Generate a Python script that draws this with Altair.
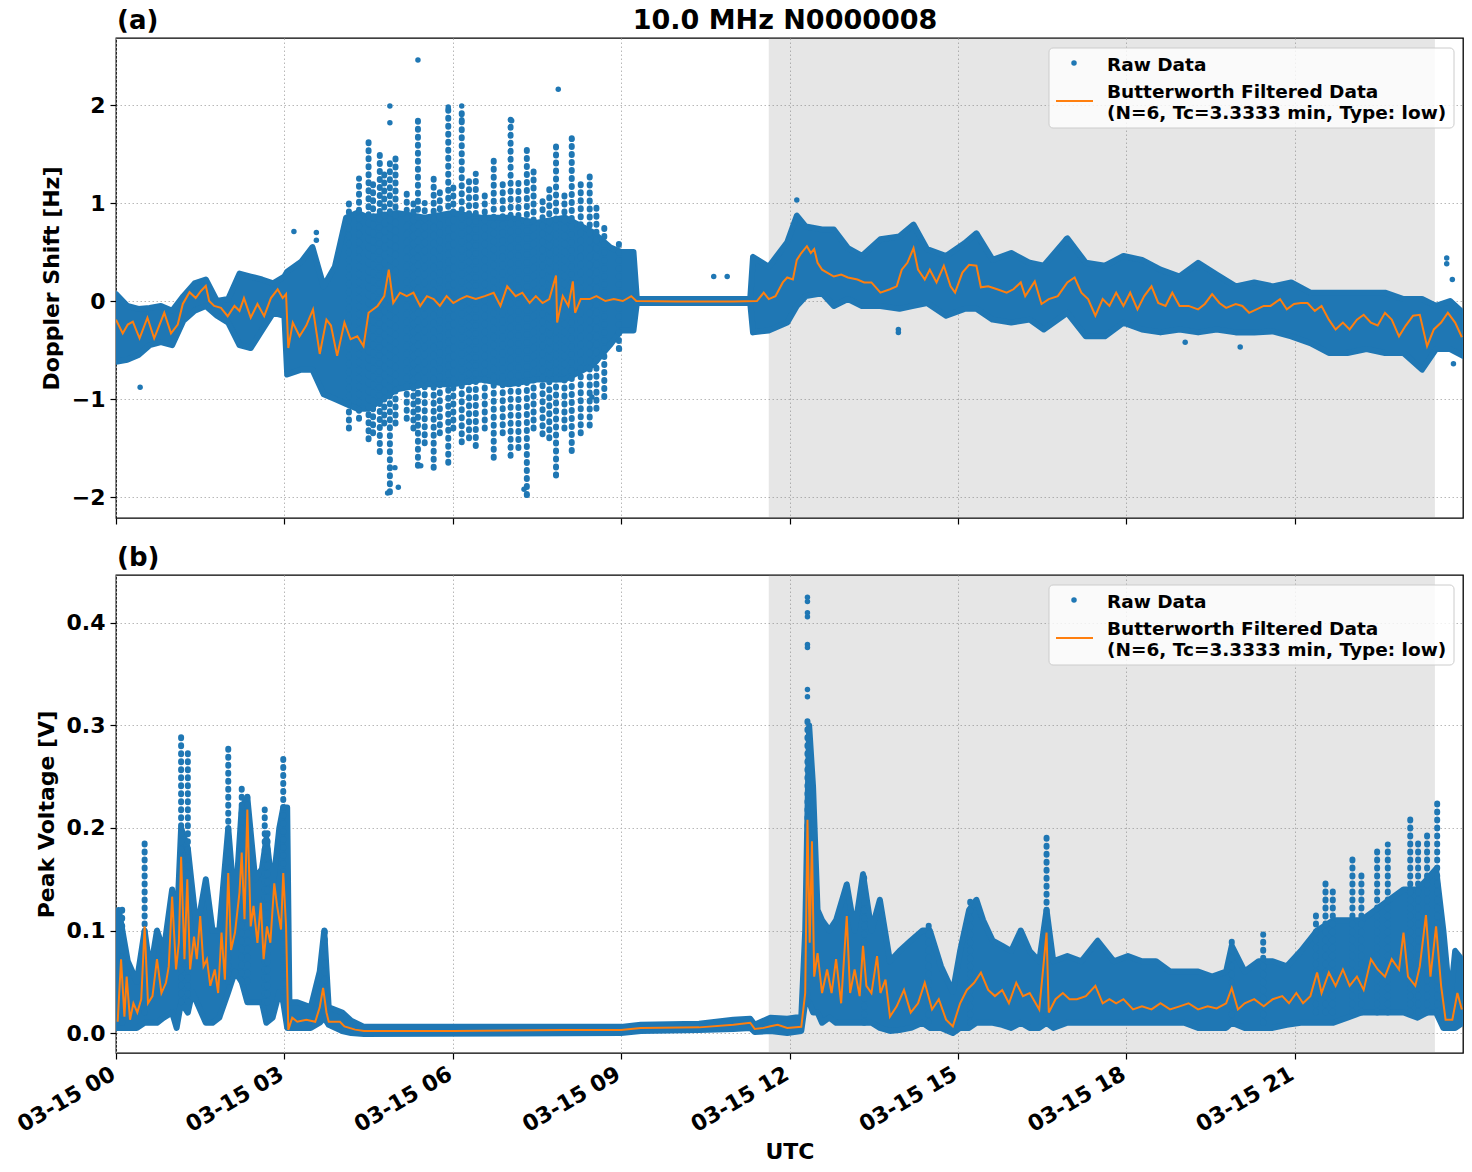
import altair as alt
import pandas as pd

FONT = "DejaVu Sans"
BLUE = "#1f77b4"
ORANGE = "#ff7f0e"
TITLE = "10.0 MHz N0000008"
LEG_RAW = "Raw Data"
LEG_FILT_1 = "Butterworth Filtered Data"
LEG_FILT_2 = "(N=6, Tc=3.3333 min, Type: low)"
X_TICKS = [0, 3, 6, 9, 12, 15, 18, 21]          # hours of 03-15 UTC
SHADE = [11.63, 23.5]                             # shaded interval, hours

# ---------------- panel (a): Doppler shift [Hz] ----------------
FILT_A_T = [0.00, 0.12, 0.21, 0.30, 0.42, 0.56, 0.68, 0.86, 0.98, 1.10, 1.19, 1.31, 1.42, 1.51, 1.60, 1.66,
            1.75, 1.87, 1.99, 2.11, 2.20, 2.28, 2.40, 2.52, 2.64, 2.76, 2.88, 2.97, 3.03, 3.07, 3.15, 3.27,
            3.39, 3.51, 3.63, 3.75, 3.83, 3.94, 4.07, 4.18, 4.30, 4.41, 4.50, 4.66, 4.78, 4.86, 4.94, 5.06,
            5.18, 5.30, 5.42, 5.54, 5.66, 5.77, 5.89, 6.01, 6.13, 6.25, 6.41, 6.57, 6.73, 6.85, 6.97, 7.12,
            7.24, 7.37, 7.48, 7.60, 7.72, 7.84, 7.86, 7.96, 8.06, 8.14, 8.18, 8.28, 8.44, 8.56, 8.72, 8.87,
            9.03, 9.18, 9.27, 10.00, 11.00, 11.42, 11.54, 11.63, 11.75, 11.88, 11.96, 12.06, 12.13, 12.21,
            12.31, 12.38, 12.44, 12.50, 12.58, 12.67, 12.79, 12.92, 13.04, 13.21, 13.33, 13.46, 13.62, 13.79,
            13.91, 14.00, 14.10, 14.21, 14.29, 14.41, 14.50, 14.62, 14.75, 14.87, 14.95, 15.08, 15.20, 15.33,
            15.41, 15.54, 15.70, 15.87, 15.99, 16.12, 16.20, 16.37, 16.49, 16.62, 16.78, 16.95, 17.08, 17.20,
            17.32, 17.45, 17.58, 17.70, 17.82, 17.95, 18.07, 18.20, 18.32, 18.45, 18.57, 18.70, 18.82, 18.95,
            19.11, 19.28, 19.40, 19.53, 19.66, 19.78, 19.95, 20.07, 20.19, 20.32, 20.45, 20.57, 20.74, 20.86,
            20.99, 21.11, 21.23, 21.36, 21.48, 21.61, 21.73, 21.86, 21.98, 22.11, 22.23, 22.36, 22.48, 22.61,
            22.73, 22.86, 22.98, 23.11, 23.23, 23.36, 23.48, 23.61, 23.73, 23.86, 23.98]
FILT_A_V = [-0.19, -0.33, -0.24, -0.21, -0.38, -0.17, -0.38, -0.12, -0.33, -0.24, -0.03, 0.09, 0.03, 0.10, 0.155, 0.00,
            -0.05, -0.07, -0.155, -0.05, -0.10, 0.03, -0.17, -0.03, -0.155, 0.03, 0.12, 0.03, 0.07, -0.48, -0.22, -0.36,
            -0.25, -0.085, -0.54, -0.19, -0.25, -0.56, -0.22, -0.39, -0.36, -0.46, -0.12, -0.05, 0.05, 0.32, -0.02, 0.085,
            0.05, 0.085, -0.05, 0.05, 0.02, -0.05, 0.05, -0.02, 0.02, 0.05, 0.02, 0.05, 0.085, -0.05, 0.15, 0.05,
            0.085, -0.02, 0.05, -0.02, 0.02, 0.26, -0.22, 0.05, -0.05, 0.20, -0.12, 0.02, 0.02, 0.05, 0.00, 0.02,
            0.00, 0.05, 0.00, -0.005, -0.005, 0.00, 0.085, 0.02, 0.05, 0.19, 0.24, 0.22, 0.42, 0.49,
            0.56, 0.49, 0.53, 0.39, 0.32, 0.29, 0.25, 0.27, 0.24, 0.22, 0.19, 0.19, 0.085, 0.12,
            0.15, 0.32, 0.39, 0.54, 0.32, 0.22, 0.32, 0.19, 0.36, 0.15, 0.085, 0.29, 0.37, 0.36,
            0.14, 0.15, 0.12, 0.085, 0.12, 0.19, 0.05, 0.20, -0.03, 0.02, 0.05, 0.19, 0.24, 0.085,
            0.02, -0.15, 0.02, -0.05, 0.085, -0.05, 0.085, -0.085, 0.05, 0.15, -0.02, -0.05, 0.085, -0.05,
            -0.05, -0.085, -0.03, 0.07, -0.02, -0.07, -0.03, -0.05, -0.12, -0.085, -0.05, -0.05, 0.02, -0.085,
            -0.03, -0.02, -0.02, -0.10, -0.05, -0.19, -0.29, -0.22, -0.29, -0.19, -0.14, -0.22, -0.25, -0.12,
            -0.19, -0.36, -0.25, -0.15, -0.14, -0.46, -0.29, -0.22, -0.12, -0.22, -0.37]

RAW_A_T = [0.0, 0.2, 0.4, 0.6, 0.8, 1.0, 1.2, 1.4, 1.6, 1.8, 2.0, 2.2, 2.4, 2.6, 2.8, 3.0, 3.05, 3.3, 3.5, 3.7,
           3.9, 4.1, 4.3, 4.5, 5.0, 5.5, 6.0, 6.5, 7.0, 7.5, 8.0, 8.5, 8.8, 9.0, 9.22, 9.28, 11.30, 11.35, 11.63,
           11.96, 12.13, 12.29, 12.58, 12.79, 13.04, 13.29, 13.62, 13.96, 14.21, 14.45, 14.79, 15.12, 15.33, 15.62,
           15.95, 16.28, 16.53, 16.95, 17.28, 17.62, 17.95, 18.28, 18.61, 18.95, 19.28, 19.61, 19.95, 20.28, 20.61,
           20.94, 21.28, 21.61, 21.94, 22.28, 22.61, 22.94, 23.27, 23.52, 23.77, 24.0]
RAW_A_LO = [-0.62, -0.60, -0.55, -0.45, -0.42, -0.45, -0.20, -0.10, -0.05, -0.15, -0.22, -0.45, -0.48, -0.30, -0.12, -0.15,
            -0.75, -0.70, -0.70, -0.95, -1.00, -1.05, -1.10, -1.10, -0.90, -0.85, -0.85, -0.80, -0.85, -0.80, -0.80, -0.65,
            -0.45, -0.30, -0.30, -0.02, -0.02, -0.32, -0.30, -0.22, -0.05, 0.05, 0.08, -0.05, 0.02, -0.05, -0.05, -0.08,
            -0.05, -0.02, -0.15, -0.08, -0.08, -0.19, -0.22, -0.19, -0.29, -0.12, -0.36, -0.36, -0.22, -0.29, -0.32, -0.29,
            -0.32, -0.29, -0.32, -0.32, -0.31, -0.36, -0.43, -0.53, -0.53, -0.49, -0.53, -0.53, -0.70, -0.49, -0.49, -0.56]
RAW_A_HI = [0.07, -0.05, -0.08, -0.07, -0.05, -0.10, 0.05, 0.18, 0.22, 0.00, 0.02, 0.28, 0.25, 0.22, 0.18, 0.25,
            0.30, 0.40, 0.55, 0.15, 0.35, 0.85, 0.90, 0.85, 0.90, 0.85, 0.90, 0.85, 0.85, 0.80, 0.85, 0.70,
            0.55, 0.50, 0.50, 0.02, 0.02, 0.45, 0.35, 0.60, 0.87, 0.76, 0.73, 0.73, 0.54, 0.46, 0.63, 0.66,
            0.78, 0.53, 0.46, 0.59, 0.69, 0.42, 0.49, 0.39, 0.36, 0.64, 0.39, 0.36, 0.46, 0.42, 0.32, 0.25,
            0.39, 0.27, 0.15, 0.19, 0.15, 0.19, 0.085, 0.085, 0.085, 0.085, 0.085, 0.02, 0.02, -0.05, 0.00, -0.12]

STREAK_A_T = [4.15, 4.33, 4.50, 4.58, 4.70, 4.78, 4.88, 4.98, 5.18, 5.30, 5.38, 5.50, 5.66, 5.77, 5.92, 6.01,
              6.16, 6.29, 6.41, 6.57, 6.73, 6.89, 7.03, 7.17, 7.32, 7.44, 7.60, 7.72, 7.84, 7.99, 8.12, 8.28,
              8.44, 8.56, 8.70, 8.96]
STREAK_A_LO = [-1.30, -1.20, -1.41, -1.35, -1.54, -1.25, -1.95, -1.25, -1.20, -1.30, -1.68, -1.45, -1.70, -1.35,
               -1.65, -1.30, -1.44, -1.40, -1.48, -1.30, -1.60, -1.35, -1.58, -1.50, -1.98, -1.30, -1.36, -1.40,
               -1.78, -1.30, -1.53, -1.35, -1.27, -1.10, -0.98, -0.49]
STREAK_A_HI = [1.00, 1.25, 1.65, 1.20, 1.56, 1.30, 1.44, 1.50, 1.10, 1.00, 1.90, 1.00, 1.27, 1.15, 1.98, 1.20,
               1.98, 1.25, 1.30, 1.10, 1.50, 1.20, 1.85, 1.25, 1.60, 1.35, 1.07, 1.20, 1.61, 1.10, 1.66, 1.20,
               1.27, 1.00, 0.80, 0.60]

OUT_A_T = [0.43, 3.17, 3.57, 3.57, 4.88, 4.88, 5.38, 5.92, 6.16, 6.16, 7.05, 7.88, 8.12, 4.84, 5.03, 7.32, 7.27,
           7.84, 4.97, 5.43, 8.97, 8.48, 10.65, 10.89, 12.13, 13.94, 13.94, 23.71, 23.71, 23.81, 23.83, 19.05,
           20.03, 19.28, 16.93, 15.34, 14.21]
OUT_A_V = [-0.88, 0.71, 0.70, 0.62, 1.99, 1.82, 2.46, 1.98, 1.99, 1.85, 1.84, 2.16, 1.65, -1.96, -1.90, -1.98, -1.92,
           -1.77, -1.70, -1.68, -0.49, -0.98, 0.25, 0.25, 1.03, -0.32, -0.29, 0.44, 0.38, 0.22, -0.64, -0.42,
           -0.47, 0.34, 0.63, 0.68, 0.76]

# ---------------- panel (b): peak voltage [V] ----------------
FILT_B_T = [0.03, 0.09, 0.15, 0.19, 0.25, 0.31, 0.38, 0.45, 0.51, 0.57, 0.65, 0.73, 0.81, 0.89, 0.94, 1.00,
            1.07, 1.12, 1.16, 1.22, 1.27, 1.32, 1.39, 1.44, 1.50, 1.56, 1.62, 1.68, 1.76, 1.82, 1.88, 1.94,
            2.00, 2.05, 2.12, 2.20, 2.24, 2.29, 2.34, 2.40, 2.45, 2.52, 2.58, 2.63, 2.69, 2.75, 2.82, 2.87,
            2.94, 2.98, 3.03, 3.07, 3.14, 3.23, 3.39, 3.55, 3.63, 3.69, 3.75, 3.79, 3.99, 4.07, 4.26, 4.42,
            5.0, 6.0, 7.0, 8.0, 9.0, 9.35, 10.39, 11.0, 11.3, 11.38, 11.54, 11.66, 11.79, 11.96, 12.21, 12.28,
            12.32, 12.36, 12.40, 12.44, 12.50, 12.58, 12.67, 12.75, 12.83, 12.92, 13.02, 13.08, 13.16, 13.25,
            13.31, 13.37, 13.46, 13.56, 13.62, 13.71, 13.79, 13.91, 14.04, 14.16, 14.29, 14.41, 14.54, 14.66,
            14.79, 14.91, 15.04, 15.16, 15.29, 15.41, 15.54, 15.66, 15.79, 15.91, 16.04, 16.16, 16.28, 16.45,
            16.58, 16.62, 16.74, 16.87, 16.99, 17.12, 17.28, 17.45, 17.58, 17.70, 17.82, 17.95, 18.12, 18.28,
            18.45, 18.61, 18.78, 18.95, 19.11, 19.28, 19.45, 19.61, 19.78, 19.88, 19.99, 20.11, 20.28, 20.45,
            20.61, 20.78, 20.90, 21.03, 21.15, 21.28, 21.40, 21.48, 21.61, 21.73, 21.86, 21.98, 22.11, 22.23,
            22.36, 22.48, 22.61, 22.73, 22.86, 22.94, 23.02, 23.15, 23.23, 23.34, 23.42, 23.52, 23.61, 23.69,
            23.81, 23.90, 23.98]
FILT_B_V = [0.011, 0.072, 0.016, 0.055, 0.013, 0.029, 0.020, 0.033, 0.104, 0.029, 0.036, 0.072, 0.039, 0.049, 0.065, 0.133,
            0.062, 0.088, 0.172, 0.072, 0.150, 0.062, 0.094, 0.072, 0.114, 0.065, 0.072, 0.046, 0.062, 0.039, 0.098, 0.052,
            0.156, 0.081, 0.098, 0.137, 0.176, 0.111, 0.218, 0.104, 0.124, 0.088, 0.127, 0.072, 0.104, 0.088, 0.146, 0.124,
            0.101, 0.156, 0.104, 0.003, 0.015, 0.011, 0.013, 0.011, 0.025, 0.044, 0.020, 0.011, 0.011, 0.0065, 0.0033, 0.002,
            0.002, 0.002, 0.0025, 0.003, 0.003, 0.005, 0.0055, 0.008, 0.010, 0.004, 0.005, 0.0065, 0.008, 0.005, 0.006, 0.039,
            0.208, 0.088, 0.187, 0.055, 0.078, 0.039, 0.062, 0.039, 0.072, 0.029, 0.114, 0.039, 0.062, 0.036,
            0.085, 0.046, 0.039, 0.075, 0.039, 0.052, 0.016, 0.026, 0.042, 0.020, 0.029, 0.049, 0.023, 0.033,
            0.013, 0.0065, 0.029, 0.042, 0.049, 0.059, 0.042, 0.036, 0.042, 0.029, 0.049, 0.036, 0.039, 0.023,
            0.098, 0.020, 0.033, 0.039, 0.033, 0.033, 0.036, 0.046, 0.029, 0.033, 0.029, 0.033, 0.023, 0.026,
            0.023, 0.029, 0.023, 0.026, 0.029, 0.023, 0.026, 0.024, 0.029, 0.044, 0.023, 0.029, 0.033, 0.026,
            0.033, 0.036, 0.029, 0.039, 0.029, 0.036, 0.059, 0.039, 0.059, 0.046, 0.062, 0.046, 0.055, 0.042,
            0.072, 0.062, 0.055, 0.072, 0.062, 0.098, 0.055, 0.046, 0.065, 0.115, 0.055, 0.104, 0.046, 0.013,
            0.013, 0.039, 0.023]

RAW_B_T = [0.0, 0.05, 0.21, 0.37, 0.51, 0.61, 0.73, 0.85, 1.00, 1.08, 1.16, 1.28, 1.36, 1.44, 1.60, 1.72, 1.84,
           2.00, 2.12, 2.24, 2.34, 2.48, 2.60, 2.68, 2.79, 2.91, 2.98, 3.05, 3.09, 3.23, 3.47, 3.63, 3.71, 3.79,
           4.03, 4.19, 4.42, 9.00, 9.35, 10.39, 11.00, 11.30, 11.38, 11.66, 11.96, 12.21, 12.28, 12.35, 12.42,
           12.50, 12.58, 12.71, 12.83, 13.02, 13.16, 13.31, 13.46, 13.61, 13.79, 13.96, 14.16, 14.37, 14.50, 14.70,
           14.91, 15.04, 15.20, 15.33, 15.45, 15.62, 15.79, 15.95, 16.12, 16.28, 16.45, 16.58, 16.70, 16.95, 17.20,
           17.49, 17.78, 18.03, 18.28, 18.53, 18.78, 19.03, 19.28, 19.53, 19.78, 19.88, 20.11, 20.36, 20.61, 20.86,
           21.11, 21.40, 21.69, 21.94, 22.19, 22.44, 22.69, 22.94, 23.19, 23.36, 23.52, 23.65, 23.77, 23.86, 24.0]
RAW_B_LO = [0.005, 0.005, 0.005, 0.005, 0.010, 0.010, 0.010, 0.015, 0.020, 0.005, 0.030, 0.020, 0.040, 0.030, 0.010, 0.010, 0.015,
            0.040, 0.060, 0.050, 0.030, 0.030, 0.030, 0.010, 0.015, 0.040, 0.030, 0.005, 0.005, 0.005, 0.005, 0.010, 0.015, 0.008,
            0.002, 0.000, -0.001, 0.000, 0.002, 0.003, 0.004, 0.005, 0.001, 0.002, 0.000, 0.002, 0.030, 0.030, 0.020,
            0.020, 0.010, 0.015, 0.010, 0.010, 0.010, 0.010, 0.010, 0.005, 0.002, 0.003, 0.005, 0.010, 0.005, 0.005,
            0.000, 0.005, 0.005, 0.010, 0.010, 0.010, 0.008, 0.005, 0.010, 0.005, 0.005, 0.010, 0.005, 0.010, 0.010,
            0.010, 0.010, 0.010, 0.010, 0.010, 0.010, 0.010, 0.005, 0.005, 0.005, 0.010, 0.005, 0.005, 0.005, 0.008,
            0.010, 0.010, 0.010, 0.015, 0.020, 0.020, 0.020, 0.020, 0.015, 0.020, 0.020, 0.005, 0.005, 0.005, 0.010]
RAW_B_HI = [0.040, 0.120, 0.070, 0.050, 0.100, 0.060, 0.100, 0.080, 0.140, 0.100, 0.200, 0.180, 0.140, 0.100, 0.150, 0.100, 0.100,
            0.200, 0.120, 0.220, 0.230, 0.150, 0.160, 0.190, 0.140, 0.200, 0.220, 0.220, 0.030, 0.030, 0.025, 0.060, 0.100, 0.025,
            0.020, 0.012, 0.006, 0.006, 0.008, 0.009, 0.013, 0.014, 0.008, 0.015, 0.014, 0.016, 0.100, 0.300, 0.240,
            0.120, 0.110, 0.100, 0.110, 0.145, 0.100, 0.155, 0.100, 0.130, 0.070, 0.080, 0.090, 0.100, 0.100, 0.065,
            0.040, 0.080, 0.120, 0.130, 0.110, 0.090, 0.085, 0.080, 0.100, 0.080, 0.070, 0.120, 0.070, 0.075, 0.070,
            0.090, 0.070, 0.075, 0.070, 0.070, 0.060, 0.060, 0.060, 0.055, 0.060, 0.085, 0.060, 0.070, 0.070, 0.065,
            0.080, 0.100, 0.110, 0.110, 0.110, 0.120, 0.130, 0.140, 0.140, 0.150, 0.160, 0.100, 0.030, 0.080, 0.070]

STREAK_B_T = [0.11, 0.51, 1.16, 1.28, 2.00, 2.24, 2.34, 2.65, 2.70, 2.98, 3.72, 12.32, 13.33, 14.48, 15.22, 16.58,
              19.88, 20.44, 21.38, 21.55, 21.68, 22.03, 22.19, 22.47, 22.66, 23.06, 23.20, 23.36, 23.54]
STREAK_B_LO = [0.010, 0.020, 0.030, 0.030, 0.050, 0.050, 0.050, 0.030, 0.030, 0.040, 0.020, 0.030, 0.010, 0.010, 0.010, 0.010,
               0.010, 0.010, 0.020, 0.020, 0.020, 0.020, 0.020, 0.020, 0.020, 0.020, 0.020, 0.020, 0.020]
STREAK_B_HI = [0.124, 0.190, 0.290, 0.273, 0.283, 0.239, 0.234, 0.218, 0.200, 0.270, 0.099, 0.310, 0.155, 0.105, 0.130, 0.193,
               0.091, 0.096, 0.120, 0.150, 0.140, 0.174, 0.160, 0.180, 0.184, 0.215, 0.190, 0.195, 0.226]

OUT_B_T = [12.32, 12.32, 12.32, 12.32, 12.32, 12.32, 12.32, 12.32]
OUT_B_V = [0.425, 0.421, 0.410, 0.406, 0.379, 0.376, 0.335, 0.328]

W = 1347
H_A = 480
H_B = 478


def panel(label, height, ydom, yvals, yfmt, ytitle, filt_t, filt_v, raw_t, raw_lo, raw_hi,
          st_t, st_lo, st_hi, out_t, out_v, show_x_labels, main_title=None):
    xscale = alt.Scale(domain=[0, 24], nice=False, zero=False)
    yscale = alt.Scale(domain=ydom, nice=False, zero=False)
    if show_x_labels:
        xaxis = alt.Axis(
            values=X_TICKS, grid=True, labels=True,
            labelExpr="'03-15 ' + (datum.value < 10 ? '0' + datum.value : datum.value)",
            labelAngle=330, labelAlign="right", labelBaseline="top", labelPadding=4, labelOffset=-8,
            labelOverlap=False, labelFlush=False, title="UTC", titlePadding=6,
        )
    else:
        xaxis = alt.Axis(values=X_TICKS, grid=True, labels=False, title=None)
    yaxis = alt.Axis(values=yvals, format=yfmt, grid=True, title=ytitle, titlePadding=8,
                     labelPadding=5, labelOverlap=False, labelFlush=False)
    X = lambda f: alt.X(f, type="quantitative", scale=xscale, axis=xaxis)
    Y = lambda f: alt.Y(f, type="quantitative", scale=yscale, axis=yaxis)

    shade = alt.Chart(pd.DataFrame({"t": [SHADE[0]], "t2": [SHADE[1]]})).mark_rect(
        color="#808080", opacity=0.2
    ).encode(x=X("t"), x2="t2", y=alt.value(0), y2=alt.value(height))
    band = alt.Chart(pd.DataFrame({"t": raw_t, "v": raw_lo, "v2": raw_hi})).mark_area(
        color=BLUE, stroke=BLUE, strokeWidth=6, strokeJoin="round", clip=True
    ).encode(x=X("t"), y=Y("v"), y2="v2")
    streaks = alt.Chart(pd.DataFrame({"t": st_t, "v": st_lo, "v2": st_hi})).mark_rule(
        color=BLUE, strokeWidth=6, strokeCap="round", strokeDash=[1, 7], clip=True
    ).encode(x=X("t"), y=Y("v"), y2="v2")
    outl = alt.Chart(pd.DataFrame({"t": out_t, "v": out_v})).mark_circle(
        color=BLUE, opacity=1, size=30, clip=True
    ).encode(x=X("t"), y=Y("v"))
    line = alt.Chart(pd.DataFrame({"t": filt_t, "v": filt_v})).mark_line(
        color=ORANGE, strokeWidth=2, clip=True
    ).encode(x=X("t"), y=Y("v"))

    one = pd.DataFrame({"k": [0]})
    leg_box = alt.Chart(one).mark_rect(
        fill="white", fillOpacity=0.8, stroke="#cccccc", strokeWidth=1, cornerRadius=4
    ).encode(x=alt.value(933), x2=alt.value(1338), y=alt.value(10), y2=alt.value(90))
    leg_dot = alt.Chart(one).mark_circle(color=BLUE, opacity=1, size=30).encode(
        x=alt.value(958), y=alt.value(25))
    leg_line = alt.Chart(one).mark_rule(color=ORANGE, strokeWidth=2).encode(
        x=alt.value(940), x2=alt.value(977), y=alt.value(63))
    txt = dict(font=FONT, fontWeight="bold", fontSize=18.5, align="left", baseline="middle", color="black")
    leg_t1 = alt.Chart(one).mark_text(**txt).encode(x=alt.value(991), y=alt.value(26.5), text=alt.value(LEG_RAW))
    leg_t2 = alt.Chart(one).mark_text(**txt).encode(x=alt.value(991), y=alt.value(53.5), text=alt.value(LEG_FILT_1))
    leg_t3 = alt.Chart(one).mark_text(**txt).encode(x=alt.value(991), y=alt.value(74.5), text=alt.value(LEG_FILT_2))

    lab = alt.Chart(one).mark_text(font=FONT, fontWeight="bold", fontSize=26, align="left",
                                   baseline="alphabetic", color="black").encode(
        x=alt.value(1), y=alt.value(-9), text=alt.value(label))
    layers = [shade, band, streaks, outl, line, leg_box, leg_dot, leg_line, leg_t1, leg_t2, leg_t3, lab]
    if main_title:
        mt = alt.Chart(one).mark_text(font=FONT, fontWeight="bold", fontSize=27, align="center",
                                      baseline="alphabetic", color="black").encode(
            x=alt.value(669), y=alt.value(-9), text=alt.value(main_title))
        layers.append(mt)
    return alt.layer(*layers).properties(width=W, height=height)


top = panel("(a)", H_A, [-2.214, 2.684], [-2, -1, 0, 1, 2], "d", "Doppler Shift [Hz]",
            FILT_A_T, FILT_A_V, RAW_A_T, RAW_A_LO, RAW_A_HI,
            STREAK_A_T, STREAK_A_LO, STREAK_A_HI, OUT_A_T, OUT_A_V, False, TITLE)
bottom = panel("(b)", H_B, [-0.0195, 0.4468], [0, 0.1, 0.2, 0.3, 0.4], ".1f", "Peak Voltage [V]",
               FILT_B_T, FILT_B_V, RAW_B_T, RAW_B_LO, RAW_B_HI,
               STREAK_B_T, STREAK_B_LO, STREAK_B_HI, OUT_B_T, OUT_B_V, True)

chart = alt.vconcat(top, bottom, spacing=57, bounds="flush").properties(
    padding={"left": 12, "top": 6, "right": 5, "bottom": 5}
).configure(
    font=FONT, background="white"
).configure_view(
    stroke="black", strokeWidth=1.3
).configure_axis(
    labelFont=FONT, labelFontSize=22, labelFontWeight="bold", labelColor="black",
    titleFont=FONT, titleFontSize=22, titleFontWeight="bold", titleColor="black",
    domain=False, ticks=True, tickColor="black", tickSize=6, tickWidth=1.2,
    gridColor="#b0b0b0", gridDash=[1.5, 2.5], gridWidth=0.9,
)

chart.save("out.html", embed_options={"renderer": "svg", "actions": False})
